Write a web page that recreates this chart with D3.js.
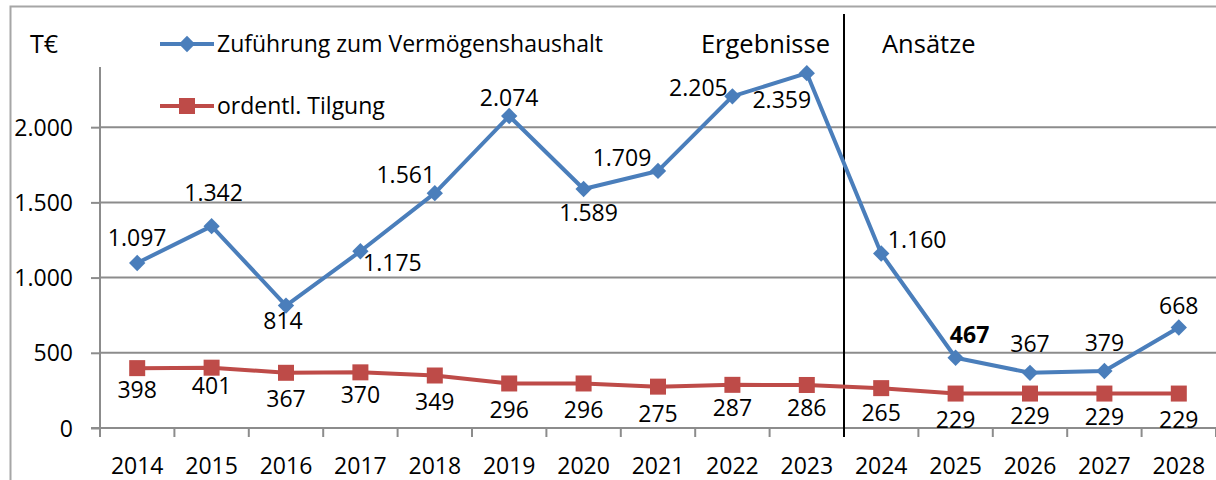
<!DOCTYPE html>
<html>
<head>
<meta charset="utf-8">
<script src="https://cdn.jsdelivr.net/npm/d3@7"></script>
<style>
  body { margin: 0; background: #fff; }
  svg text { font-family: "Open Sans", "Noto Sans", sans-serif; fill: #000; }
</style>
</head>
<body>
<div id="chart"></div>
<script>
// Data
const years = ["2014","2015","2016","2017","2018","2019","2020","2021","2022","2023","2024","2025","2026","2027","2028"];
const zufuehrung = [1097, 1342, 814, 1175, 1561, 2074, 1589, 1709, 2205, 2359, 1160, 467, 367, 379, 668];
const tilgung = [398, 401, 367, 370, 349, 296, 296, 275, 287, 286, 265, 229, 229, 229, 229];
const yTicks = [0, 500, 1000, 1500, 2000];
const seriesNames = ["Zuführung zum Vermögenshaushalt", "ordentl. Tilgung"];

// label offsets (dx, dy of the text centre relative to the point)
const blueLabelPos = [[0,-25],[2,-33],[-3,15],[32,12],[-29,-18],[0,-18],[5,24],[-36,-13],[-34,-8],[-25,27],[36,-14],[14,-23],[0,-29],[0,-28],[0,-22]];
const redLabelPos = [[0,22],[0,18],[0,26],[0,23],[0,26],[0,26],[0,26],[0,27],[0,23],[0,23],[0,25],[0,26],[0,22],[0,23],[0,26]];

const W = 1216, H = 480;
const margin = {left: 100, right: 0, top: 67, bottom: 52};
const fs = 23;

const svg = d3.select("#chart").append("svg")
  .attr("width", W).attr("height", H);

// outer frame (partly cut off)
svg.append("path")
  .attr("d", "M10.5,480 V6.5 H" + W)
  .attr("fill", "none").attr("stroke", "#a6a6a6").attr("stroke-width", 2);

const x = d3.scaleBand().domain(years)
  .range([margin.left, W - margin.right]).padding(0);
const y = d3.scaleLinear().domain([0, 2400])
  .range([H - margin.bottom, margin.top]);

// gridlines
svg.append("g").selectAll("line").data(yTicks.slice(1)).join("line")
  .attr("x1", margin.left).attr("x2", W)
  .attr("y1", d => y(d)).attr("y2", d => y(d))
  .attr("stroke", "#8c8c8c").attr("stroke-width", 2);

// y axis
const yAxis = svg.append("g")
  .attr("transform", "translate(" + margin.left + ",0)")
  .call(d3.axisLeft(y).tickValues(yTicks).tickSize(9).tickPadding(18)
    .tickFormat(d => d3.format(",")(d).replace(/,/g, ".")));
yAxis.select(".domain").attr("stroke", "#8c8c8c").attr("stroke-width", 2)
  .attr("d", "M-9," + y(0) + "H0V" + margin.top);
yAxis.selectAll(".tick line").attr("stroke", "#8c8c8c").attr("stroke-width", 2);
yAxis.selectAll(".tick text").attr("font-size", fs).attr("font-family", null)
  .attr("dy", "0.35em");

// x axis with ticks between categories
const xAxis = svg.append("g")
  .attr("transform", "translate(0," + y(0) + ")");
xAxis.append("line")
  .attr("x1", margin.left).attr("x2", W)
  .attr("stroke", "#8c8c8c").attr("stroke-width", 2);
xAxis.selectAll(".xt").data(years.concat(["end"])).join("line")
  .attr("class", "xt")
  .attr("x1", (d, i) => margin.left + i * x.bandwidth())
  .attr("x2", (d, i) => margin.left + i * x.bandwidth())
  .attr("y1", 0).attr("y2", 9)
  .attr("stroke", "#8c8c8c").attr("stroke-width", 2);
xAxis.selectAll("text").data(years).join("text")
  .attr("x", d => x(d) + x.bandwidth() / 2)
  .attr("y", 46)
  .attr("text-anchor", "middle")
  .attr("font-size", fs)
  .text(d => d);

// divider between Ergebnisse and Ansätze
const divX = x("2024");
svg.append("line")
  .attr("x1", divX).attr("x2", divX)
  .attr("y1", 14).attr("y2", y(0) + 9)
  .attr("stroke", "#000").attr("stroke-width", 2);
svg.append("text").attr("x", divX - 14).attr("y", 53)
  .attr("text-anchor", "end").attr("font-size", 25.5).text("Ergebnisse");
svg.append("text").attr("x", divX + 38).attr("y", 53)
  .attr("font-size", 25.5).text("Ansätze");

// unit
svg.append("text").attr("x", 30).attr("y", 53)
  .attr("font-size", 25).text("T€");

const cx = d => x(d) + x.bandwidth() / 2;
const blue = "#4a7ebb", red = "#be4b48";

const line = vals => d3.line()
  .x((d, i) => cx(years[i]))
  .y(d => y(d))(vals);

// red series
svg.append("path").attr("d", line(tilgung))
  .attr("fill", "none").attr("stroke", red).attr("stroke-width", 4)
  .attr("stroke-linejoin", "round");
svg.append("g").selectAll("rect").data(tilgung).join("rect")
  .attr("x", (d, i) => cx(years[i]) - 8)
  .attr("y", d => y(d) - 8)
  .attr("width", 16).attr("height", 16)
  .attr("fill", red);

// blue series
svg.append("path").attr("d", line(zufuehrung))
  .attr("fill", "none").attr("stroke", blue).attr("stroke-width", 4)
  .attr("stroke-linejoin", "round");
const diamond = d3.symbol().type(d3.symbolDiamond2).size(170);
svg.append("g").selectAll("path").data(zufuehrung).join("path")
  .attr("d", diamond)
  .attr("transform", (d, i) => "translate(" + cx(years[i]) + "," + y(d) + ")")
  .attr("fill", blue);

const fmt = v => d3.format(",")(v).replace(/,/g, ".");

// data labels
svg.append("g").selectAll("text").data(zufuehrung).join("text")
  .attr("x", (d, i) => cx(years[i]) + blueLabelPos[i][0])
  .attr("y", (d, i) => y(d) + blueLabelPos[i][1])
  .attr("dy", "0.35em")
  .attr("text-anchor", "middle")
  .attr("font-size", fs)
  .attr("font-weight", (d, i) => years[i] === "2025" ? "bold" : null)
  .text(fmt);
svg.append("g").selectAll("text").data(tilgung).join("text")
  .attr("x", (d, i) => cx(years[i]) + redLabelPos[i][0])
  .attr("y", (d, i) => y(d) + redLabelPos[i][1])
  .attr("dy", "0.35em")
  .attr("text-anchor", "middle")
  .attr("font-size", fs)
  .text(fmt);

// legend
const legend = svg.append("g");
[[blue, 44], [red, 106]].forEach(([c, ly], i) => {
  legend.append("line").attr("x1", 160).attr("x2", 214)
    .attr("y1", ly).attr("y2", ly)
    .attr("stroke", c).attr("stroke-width", 4);
  if (i === 0) {
    legend.append("path").attr("d", diamond)
      .attr("transform", "translate(187," + ly + ")").attr("fill", c);
  } else {
    legend.append("rect").attr("x", 179).attr("y", ly - 8)
      .attr("width", 16).attr("height", 16).attr("fill", c);
  }
  legend.append("text").attr("x", 217).attr("y", ly).attr("dy", "0.35em")
    .attr("font-size", fs).text(seriesNames[i]);
});
</script>
</body>
</html>
